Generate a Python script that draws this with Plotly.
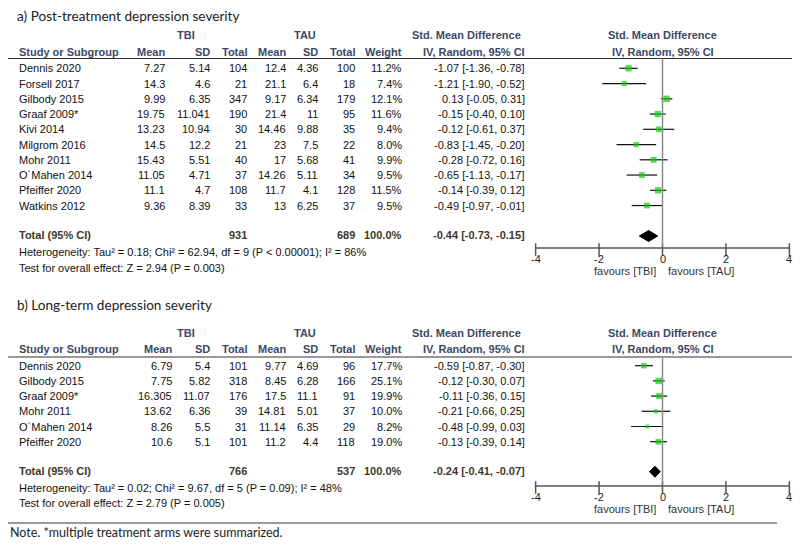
import plotly.graph_objects as go

# panel a) post-treatment
studies_a = ["Dennis 2020", "Forsell 2017", "Gilbody 2015", "Graaf 2009*", "Kivi 2014",
             "Milgrom 2016", "Mohr 2011", "O´Mahen 2014", "Pfeiffer 2020", "Watkins 2012"]
tbi_mean_a = ["7.27", "14.3", "9.99", "19.75", "13.23", "14.5", "15.43", "11.05", "11.1", "9.36"]
tbi_sd_a = ["5.14", "4.6", "6.35", "11.041", "10.94", "12.2", "5.51", "4.71", "4.7", "8.39"]
tbi_n_a = [104, 21, 347, 190, 30, 21, 40, 37, 108, 33]
tau_mean_a = ["12.4", "21.1", "9.17", "21.4", "14.46", "23", "17", "14.26", "11.7", "13"]
tau_sd_a = ["4.36", "6.4", "6.34", "11", "9.88", "7.5", "5.68", "5.11", "4.1", "6.25"]
tau_n_a = [100, 18, 179, 95, 35, 22, 41, 34, 128, 37]
weight_a = [11.2, 7.4, 12.1, 11.6, 9.4, 8.0, 9.9, 9.5, 11.5, 9.5]
smd_a = [-1.07, -1.21, 0.13, -0.15, -0.12, -0.83, -0.28, -0.65, -0.14, -0.49]
lo_a = [-1.36, -1.90, -0.05, -0.40, -0.61, -1.45, -0.72, -1.13, -0.39, -0.97]
hi_a = [-0.78, -0.52, 0.31, 0.10, 0.37, -0.20, 0.16, -0.17, 0.12, -0.01]
total_a = [931, 689, -0.44, -0.73, -0.15]
het_a = "Heterogeneity: Tau² = 0.18; Chi² = 62.94, df = 9 (P < 0.00001); I² = 86%"
test_a = "Test for overall effect: Z = 2.94 (P = 0.003)"

# panel b) long-term
studies_b = ["Dennis 2020", "Gilbody 2015", "Graaf 2009*", "Mohr 2011", "O´Mahen 2014", "Pfeiffer 2020"]
tbi_mean_b = ["6.79", "7.75", "16.305", "13.62", "8.26", "10.6"]
tbi_sd_b = ["5.4", "5.82", "11.07", "6.36", "5.5", "5.1"]
tbi_n_b = [101, 318, 176, 39, 31, 101]
tau_mean_b = ["9.77", "8.45", "17.5", "14.81", "11.14", "11.2"]
tau_sd_b = ["4.69", "6.28", "11.1", "5.01", "6.35", "4.4"]
tau_n_b = [96, 166, 91, 37, 29, 118]
weight_b = [17.7, 25.1, 19.9, 10.0, 8.2, 19.0]
smd_b = [-0.59, -0.12, -0.11, -0.21, -0.48, -0.13]
lo_b = [-0.87, -0.30, -0.36, -0.66, -0.99, -0.39]
hi_b = [-0.30, 0.07, 0.15, 0.25, 0.03, 0.14]
total_b = [766, 537, -0.24, -0.41, -0.07]
het_b = "Heterogeneity: Tau² = 0.02; Chi² = 9.67, df = 5 (P = 0.09); I² = 48%"
test_b = "Test for overall effect: Z = 2.79 (P = 0.005)"

tick_vals = [-4, -2, 0, 2, 4]

TXT = "Liberation Sans, Arial, sans-serif"
TTL = "Lato, 'Open Sans', sans-serif"
HEAD = "#3b4868"
TOT = "#3d3828"
FS = 11
OFF = 8  # page body margin, coordinates below are page pixels

fig = go.Figure()
ann = []
shapes = []


def txt(x, y, s, anchor="left", bold=False, color="#111", size=FS, font=TXT, xref="x"):
    if bold:
        s = "<b>" + s + "</b>"
    ann.append(dict(x=x, y=y, xref=xref, yref="y", text=s, showarrow=False,
                    xanchor=anchor, yanchor="middle", borderpad=0,
                    font=dict(family=font, size=size, color=color)))


def panel(d, title):
    txt(16, d["title"], title, size=13.6, font=TTL, color="#222")
    # group headers
    txt(186, d["grp"], "TBI", "center", True, HEAD)
    txt(305, d["grp"], "TAU", "center", True, HEAD)
    txt(466, d["grp"], "Std. Mean Difference", "center", True, HEAD)
    txt(0, d["grp"], "Std. Mean Difference", "center", True, HEAD, xref="x2")
    hy = d["head"]
    txt(18, hy, "Study or Subgroup", "left", True, HEAD)
    for xr, lab in [(d["mean_r"], "Mean"), (211, "SD"), (248, "Total"), (287, "Mean"),
                    (319, "SD"), (356, "Total"), (403, "Weight"), (526, "IV, Random, 95% CI")]:
        txt(xr, hy, lab, "right", True, HEAD)
    txt(0, hy, "IV, Random, 95% CI", "center", True, HEAD, xref="x2")
    shapes.append(dict(type="line", xref="x", yref="y", x0=8, x1=800, y0=d["line"], y1=d["line"],
                       line=dict(color="#333", width=1.2)))

    rows = [d["row0"] + i * d["step"] for i in range(len(d["study"]))]
    for i, y in enumerate(rows):
        txt(18, y, d["study"][i])
        txt(d["mean_r"], y, d["m1"][i], "right")
        txt(211, y, d["s1"][i], "right")
        txt(248, y, str(d["n1"][i]), "right")
        txt(287, y, d["m2"][i], "right")
        txt(319, y, d["s2"][i], "right")
        txt(356, y, str(d["n2"][i]), "right")
        txt(403, y, "%.1f%%" % d["w"][i], "right")
        txt(526, y, "%.2f [%.2f, %.2f]" % (d["smd"][i], d["lo"][i], d["hi"][i]), "right")

    ty = d["total"]
    t = d["tot"]
    txt(18, ty, "Total (95% CI)", "left", True, TOT)
    txt(248, ty, str(t[0]), "right", True, TOT)
    txt(356, ty, str(t[1]), "right", True, TOT)
    txt(403, ty, "100.0%", "right", True, TOT)
    txt(526, ty, "%.2f [%.2f, %.2f]" % (t[2], t[3], t[4]), "right", True, TOT)
    txt(18, d["het_y"], d["het"])
    txt(18, d["test_y"], d["test"])

    # zero line and axis
    ay = d["axis"]
    shapes.append(dict(type="line", xref="x2", yref="y", x0=0, x1=0, y0=d["line"], y1=ay,
                       line=dict(color="#8a8a8a", width=1.5)))
    shapes.append(dict(type="line", xref="x2", yref="y", x0=tick_vals[0], x1=tick_vals[-1],
                       y0=ay, y1=ay, line=dict(color="#555", width=1.5)))
    fig.add_trace(go.Scatter(x=tick_vals, y=[ay + 1.5] * len(tick_vals), xaxis="x2", yaxis="y",
                             mode="markers", hoverinfo="skip", cliponaxis=False,
                             marker=dict(symbol="line-ns", size=9,
                                         line=dict(color="#555", width=1.5))))
    for v in tick_vals:
        txt(v, d["tick_y"], str(v), "center", xref="x2", color="#222")
    txt(-0.17, d["fav"], "favours [TBI]", "right", xref="x2", color="#333")
    txt(0.13, d["fav"], "favours [TAU]", "left", xref="x2", color="#333")

    # CI whiskers
    cx, cy = [], []
    for i, y in enumerate(rows):
        cx += [d["lo"][i], d["hi"][i], None]
        cy += [y, y, None]
    fig.add_trace(go.Scatter(x=cx, y=cy, xaxis="x2", yaxis="y", mode="lines",
                             line=dict(color="#111", width=1.2), hoverinfo="skip"))
    wmax = max(d["w"])
    fig.add_trace(go.Scatter(x=d["smd"], y=rows, xaxis="x2", yaxis="y", mode="markers",
                             marker=dict(symbol="square", color="#10cc10",
                                         size=[max(3, 6.5 * (w / wmax) ** 0.5) for w in d["w"]],
                                         line=dict(width=0))))
    # pooled diamond
    h = 5.5
    fig.add_trace(go.Scatter(x=[t[3], t[2], t[4], t[2], t[3]],
                             y=[ty + 1, ty + 1 - h, ty + 1, ty + 1 + h, ty + 1],
                             xaxis="x2", yaxis="y", mode="lines", fill="toself",
                             fillcolor="#000", line=dict(color="#000", width=1), hoverinfo="skip"))


panel(dict(title=16, grp=34.5, head=52, line=58.5, row0=68.3, step=15.25, total=235,
           het_y=252, test_y=268, axis=248, tick_y=259, fav=271, mean_r=166,
           study=studies_a, m1=tbi_mean_a, s1=tbi_sd_a, n1=tbi_n_a, m2=tau_mean_a, s2=tau_sd_a,
           n2=tau_n_a, w=weight_a, smd=smd_a, lo=lo_a, hi=hi_a, tot=total_a, het=het_a, test=test_a),
      "a) Post-treatment depression severity")
panel(dict(title=305, grp=333, head=349, line=357, row0=365.7, step=15.2, total=470.7,
           het_y=488, test_y=503, axis=486, tick_y=497, fav=509, mean_r=172.5,
           study=studies_b, m1=tbi_mean_b, s1=tbi_sd_b, n1=tbi_n_b, m2=tau_mean_b, s2=tau_sd_b,
           n2=tau_n_b, w=weight_b, smd=smd_b, lo=lo_b, hi=hi_b, tot=total_b, het=het_b, test=test_b),
      "b) Long-term depression severity")

shapes.append(dict(type="line", xref="x", yref="y", x0=8, x1=777, y0=523, y1=523,
                   line=dict(color="#333", width=1.2)))
txt(9, 532, "Note. *multiple treatment arms were summarized.", size=12.5, font=TTL, color="#222")

W, H = 800 - OFF, 547 - OFF
fig.update_layout(
    width=W, height=H, margin=dict(l=0, r=0, t=0, b=0),
    paper_bgcolor="white", plot_bgcolor="white", showlegend=False,
    xaxis=dict(range=[OFF, 800], domain=[0, 1], visible=False, fixedrange=True),
    yaxis=dict(range=[547, OFF], domain=[0, 1], visible=False, fixedrange=True),
    xaxis2=dict(range=[-4.02, 4.02], domain=[(535.0 - OFF) / W, (790.0 - OFF) / W], anchor="y",
                visible=False, fixedrange=True),
    annotations=ann, shapes=shapes,
)
fig.write_html("out.html")
